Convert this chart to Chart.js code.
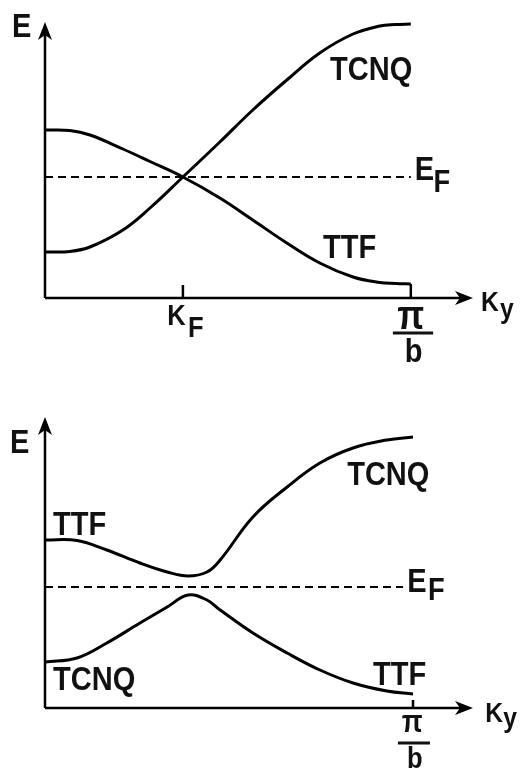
<!DOCTYPE html>
<html>
<head>
<meta charset="utf-8">
<script src="https://cdn.jsdelivr.net/npm/chart.js@4/dist/chart.umd.min.js"></script>
<style>
  html, body { margin: 0; padding: 0; background: #fff; }
  .panel { position: absolute; left: 0; width: 520px; }
  #top { top: 0; height: 385px; }
  #bottom { top: 385px; height: 386px; }
</style>
</head>
<body>
<div class="panel" id="top"><canvas id="chart-top"></canvas></div>
<div class="panel" id="bottom"><canvas id="chart-bottom"></canvas></div>
<script>
// k in units of pi/b, E in arbitrary units (E = 0 on the k axis)
const kTop = [0, 0.068, 0.123, 0.213, 0.287, 0.377, 0.478, 0.568, 0.661, 0.751, 0.842, 0.915, 0.958, 1.0];
const tcnqTop = [0.46, 0.465, 0.51, 0.68, 0.90, 1.21, 1.56, 1.88, 2.18, 2.45, 2.64, 2.72, 2.735, 2.74];
const ttfTop = [1.68, 1.675, 1.63, 1.49, 1.365, 1.21, 1.00, 0.78, 0.55, 0.35, 0.21, 0.155, 0.145, 0.14];

const kBottom = [0, 0.087, 0.168, 0.258, 0.332, 0.389, 0.44, 0.476, 0.565, 0.658, 0.747, 0.837, 0.929, 1.0];
const upperBottom = [1.68, 1.675, 1.58, 1.45, 1.36, 1.32, 1.36, 1.48, 1.91, 2.21, 2.45, 2.60, 2.68, 2.71];
const lowerBottom = [0.46, 0.50, 0.65, 0.85, 1.01, 1.13, 1.08, 0.98, 0.75, 0.55, 0.38, 0.25, 0.17, 0.14];

const fermiLevel = 1.21;
const kFermi = 0.377;
const kZone = 1.0;

const FONT = '"Liberation Sans", Arial, sans-serif';
const SQUEEZE = 0.88; // the lettering in the figure is condensed

function series(ks, es) {
  return ks.map((k, i) => ({x: k, y: es[i]}));
}

function band(data) {
  return {
    data: data,
    borderColor: '#000',
    borderWidth: 3,
    pointRadius: 0,
    tension: 0.4,
    fill: false
  };
}

function fermiLine(kEnd) {
  return {
    data: [{x: 0, y: fermiLevel}, {x: kEnd, y: fermiLevel}],
    borderColor: '#000',
    borderWidth: 2,
    borderDash: [8, 5],
    pointRadius: 0,
    fill: false
  };
}

function arrowHead(ctx, tx, ty, dx, dy) {
  const len = 18, half = 7, notch = 5;
  const px = -dy, py = dx;
  ctx.beginPath();
  ctx.moveTo(tx, ty);
  ctx.lineTo(tx - dx * len + px * half, ty - dy * len + py * half);
  ctx.lineTo(tx - dx * (len - notch), ty - dy * (len - notch));
  ctx.lineTo(tx - dx * len - px * half, ty - dy * len - py * half);
  ctx.closePath();
  ctx.fill();
}

const axesPlugin = {
  id: 'axes',
  beforeDatasetsDraw(chart, args, opts) {
    const {ctx, chartArea: a, scales: {x, y}} = chart;
    const x0 = x.getPixelForValue(0), y0 = y.getPixelForValue(0);
    ctx.save();
    ctx.strokeStyle = '#000';
    ctx.fillStyle = '#000';
    ctx.lineWidth = 2.5;
    ctx.beginPath();
    ctx.moveTo(x0, y0);
    ctx.lineTo(x0, a.top + 8);
    ctx.moveTo(x0, y0);
    ctx.lineTo(a.right - 8, y0);
    ctx.stroke();
    arrowHead(ctx, x0, a.top, 0, -1);
    arrowHead(ctx, a.right, y0, 1, 0);
    opts.ticks.forEach(t => {
      const px = x.getPixelForValue(t.k);
      ctx.beginPath();
      ctx.moveTo(px, y0);
      ctx.lineTo(px, y0 - t.len);
      ctx.stroke();
    });
    ctx.restore();
  },
  afterDraw(chart, args, opts) {
    const {ctx, scales: {x, y}} = chart;
    ctx.save();
    ctx.fillStyle = '#111';
    ctx.strokeStyle = '#111';
    opts.labels.forEach(l => {
      ctx.save();
      ctx.font = 'bold ' + l.size + 'px ' + FONT;
      ctx.textAlign = l.align || 'left';
      ctx.textBaseline = 'alphabetic';
      ctx.translate(x.getPixelForValue(l.k), y.getPixelForValue(l.e));
      ctx.scale(SQUEEZE, 1);
      ctx.fillText(l.text, 0, 0);
      ctx.restore();
    });
    ctx.lineWidth = 3;
    opts.bars.forEach(b => {
      const py = y.getPixelForValue(b.e);
      ctx.beginPath();
      ctx.moveTo(x.getPixelForValue(b.k1), py);
      ctx.lineTo(x.getPixelForValue(b.k2), py);
      ctx.stroke();
    });
    ctx.restore();
  }
};

function panelChart(id, datasets, xMax, yMax, padding, deco) {
  return new Chart(document.getElementById(id), {
    type: 'line',
    data: {datasets: datasets},
    options: {
      responsive: true,
      maintainAspectRatio: false,
      animation: false,
      layout: {padding: padding},
      scales: {
        x: {type: 'linear', display: false, min: 0, max: xMax},
        y: {type: 'linear', display: false, min: 0, max: yMax}
      },
      plugins: {
        legend: {display: false},
        tooltip: {enabled: false},
        axes: deco
      }
    },
    plugins: [axesPlugin]
  });
}

panelChart('chart-top',
  [band(series(kTop, tcnqTop)), band(series(kTop, ttfTop)), fermiLine(kZone)],
  1.17, 2.76,
  {left: 45, right: 47, top: 22, bottom: 87},
  {
    ticks: [{k: kFermi, len: 13}, {k: kZone, len: 14}],
    labels: [
      {text: 'E', k: -0.090, e: 2.61, size: 33},
      {text: 'TCNQ', k: 0.779, e: 2.18, size: 33},
      {text: 'TTF', k: 0.760, e: 0.40, size: 33},
      {text: 'E', k: 1.011, e: 1.18, size: 33},
      {text: 'F', k: 1.062, e: 1.06, size: 31},
      {text: 'K', k: 0.334, e: -0.27, size: 29},
      {text: 'F', k: 0.391, e: -0.39, size: 29},
      {text: 'π', k: kZone, e: -0.31, size: 40, align: 'center'},
      {text: 'b', k: 1.008, e: -0.64, size: 33, align: 'center'},
      {text: 'K', k: 1.192, e: -0.13, size: 28},
      {text: 'y', k: 1.244, e: -0.20, size: 28}
    ],
    bars: [{k1: 0.951, k2: 1.061, e: -0.35}]
  });

panelChart('chart-bottom',
  [band(series(kBottom, upperBottom)), band(series(kBottom, lowerBottom)), fermiLine(0.973)],
  1.163, 2.91,
  {left: 45, right: 47, top: 32, bottom: 63},
  {
    ticks: [{k: kZone, len: 8}],
    labels: [
      {text: 'E', k: -0.095, e: 2.55, size: 33},
      {text: 'TTF', k: 0.022, e: 1.73, size: 33},
      {text: 'TCNQ', k: 0.022, e: 0.18, size: 33},
      {text: 'TCNQ', k: 0.821, e: 2.23, size: 33},
      {text: 'TTF', k: 0.891, e: 0.23, size: 33},
      {text: 'E', k: 0.984, e: 1.16, size: 33},
      {text: 'F', k: 1.041, e: 1.08, size: 31},
      {text: 'π', k: 0.998, e: -0.24, size: 31, align: 'center'},
      {text: 'b', k: 1.005, e: -0.60, size: 29, align: 'center'},
      {text: 'K', k: 1.196, e: -0.14, size: 28},
      {text: 'y', k: 1.245, e: -0.19, size: 28}
    ],
    bars: [{k1: 0.959, k2: 1.046, e: -0.35}]
  });
</script>
</body>
</html>
